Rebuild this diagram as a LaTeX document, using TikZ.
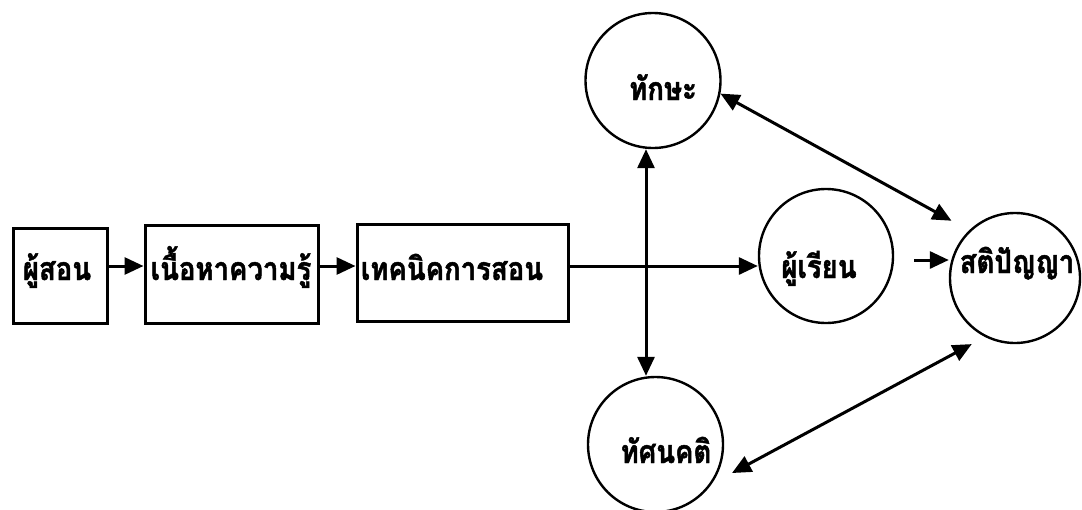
\documentclass[tikz,border=0pt]{standalone}
\usepackage{fontspec}
\newfontfamily\thaifont[Script=Thai,FakeStretch=0.86,FakeBold=1.5]{Loma}
\usetikzlibrary{arrows.meta}
\begin{document}
\begin{tikzpicture}[x=1pt,y=-1pt,
  box/.style={draw, rectangle, line width=3pt, inner sep=0pt},
  circ/.style={draw, circle, line width=2.4pt, inner sep=0pt},
  lbl/.style={anchor=base, inner sep=0pt, font=\thaifont\bfseries\fontsize{32}{32}\selectfont},
  arr/.style={line width=3pt, -{Triangle[length=19pt,width=17pt]}},
  darr/.style={line width=3pt, {Triangle[length=19pt,width=17pt]}-{Triangle[length=19pt,width=17pt]}}]
\useasboundingbox (0,0) rectangle (1082,509);
% boxes
\node[box, minimum width=94pt, minimum height=95pt] (b1) at (60,275.5) {};
\node[box, minimum width=173pt, minimum height=98pt] (b2) at (231.5,274) {};
\node[box, minimum width=211pt, minimum height=97pt] (b3) at (462.5,272.5) {};
\node[lbl] (t1) at (57,280) {ผู้สอน};
\node[lbl] (t2) at (231,280) {เนื้อหาความรู้};
\node[lbl] (t3) at (452,280) {เทคนิคการสอน};
% circles
\node[circ, minimum size=135pt] (skill) at (653,80.5) {};
\node[circ, minimum size=134pt] (learner) at (826,256) {};
\node[circ, minimum size=130pt] (intel) at (1015,278) {};
\node[circ, minimum size=135pt] (att) at (655.5,444.5) {};
\node[lbl] (t4) at (663,100) {ทักษะ};
\node[lbl] (t5) at (819,278) {ผู้เรียน};
\node[lbl] (t6) at (1017,273) {สติปัญญา};
\node[lbl] (t7) at (666,463) {ทัศนคติ};
% connectors
\coordinate (my) at (0,266);
\coordinate (sy) at (0,260);
\coordinate (vx) at (646,0);
\draw[arr] (b1.east |- my) -- (b2.west |- my);
\draw[arr] (b2.east |- my) -- (b3.west |- my);
\draw[arr] (b3.east |- my) -- (learner.west |- my);
\draw[darr] (vx |- skill.south) -- (vx |- att.north);
\draw[arr, shorten <=20pt] (learner.east |- sy) -- (intel.west |- sy);
\draw[darr, shorten >=20pt] (skill.-11.6) -- (intel.134.6);
\draw[darr, shorten <=23pt, shorten >=15pt] (att.-35.5) -- (intel.-117);
\end{tikzpicture}
\end{document}
